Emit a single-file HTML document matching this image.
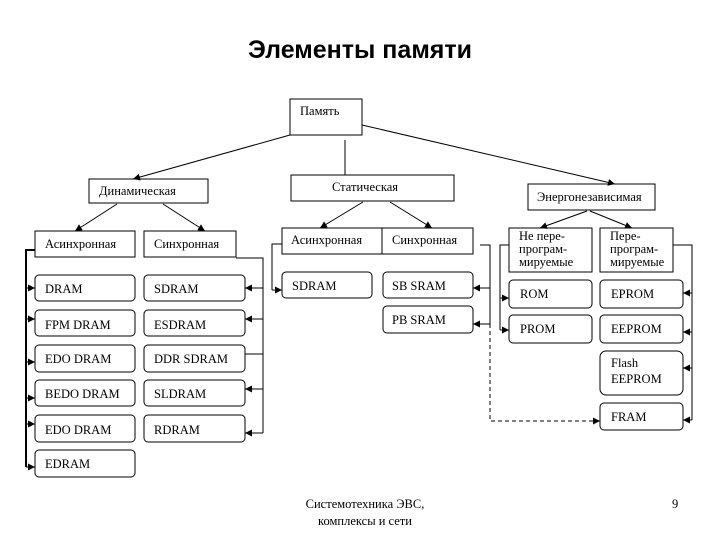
<!DOCTYPE html>
<html><head><meta charset="utf-8"><style>
html,body{margin:0;padding:0;background:#fff;width:720px;height:540px;overflow:hidden}
svg text{font-family:"Liberation Serif",serif;font-size:12.5px;fill:#000}
</style></head><body>
<svg width="720" height="540" viewBox="0 0 720 540" xmlns="http://www.w3.org/2000/svg">
<defs><marker id="a" viewBox="0 0 10 10" refX="10" refY="5" markerWidth="7" markerHeight="7" orient="auto" markerUnits="userSpaceOnUse"><path d="M0,0L10,5L0,10z" fill="#000"/></marker></defs>
<text x="360" y="58" text-anchor="middle" style="font-family:'Liberation Sans',sans-serif;font-size:25px;font-weight:bold">Элементы памяти</text>
<g fill="#fff" stroke="#000" stroke-width="1">
<rect x="290" y="99" width="72" height="36"/>
<rect x="89" y="179" width="119" height="24"/>
<rect x="291" y="175" width="163" height="26"/>
<rect x="528" y="184" width="127" height="26"/>
<rect x="35" y="231" width="100" height="26"/>
<rect x="144" y="231" width="92" height="26"/>
<rect x="282" y="228" width="100" height="26"/>
<rect x="382" y="228" width="91" height="26"/>
<rect x="509" y="228" width="83" height="44"/>
<rect x="600" y="228" width="73" height="44"/>
<g>
<rect x="35" y="275" width="100" height="26" rx="4"/>
<rect x="35" y="310" width="100" height="26" rx="4"/>
<rect x="35" y="345" width="100" height="27" rx="4"/>
<rect x="35" y="380" width="100" height="26" rx="4"/>
<rect x="35" y="415" width="100" height="27" rx="4"/>
<rect x="35" y="450" width="100" height="27" rx="4"/>
<rect x="144" y="275" width="101" height="26" rx="4"/>
<rect x="144" y="310" width="101" height="26" rx="4"/>
<rect x="144" y="345" width="101" height="27" rx="4"/>
<rect x="144" y="380" width="101" height="26" rx="4"/>
<rect x="144" y="415" width="101" height="27" rx="4"/>
<rect x="282" y="272" width="90" height="26" rx="4"/>
<rect x="383" y="272" width="90" height="26" rx="4"/>
<rect x="383" y="306" width="90" height="27" rx="4"/>
<rect x="509" y="280" width="83" height="28" rx="4"/>
<rect x="509" y="315" width="83" height="28" rx="4"/>
<rect x="600" y="280" width="83" height="28" rx="4"/>
<rect x="600" y="315" width="83" height="28" rx="4"/>
<rect x="600" y="351" width="83" height="44" rx="6"/>
<rect x="600" y="403" width="83" height="27" rx="4"/>
</g></g>
<g stroke="#000" stroke-width="1" fill="none">
<line x1="290" y1="135" x2="133" y2="179" marker-end="url(#a)"/>
<line x1="345" y1="140" x2="345" y2="175"/>
<line x1="362" y1="125" x2="615" y2="184" marker-end="url(#a)"/>
<line x1="117" y1="204" x2="75" y2="231" marker-end="url(#a)"/>
<line x1="163" y1="204" x2="205" y2="231" marker-end="url(#a)"/>
<line x1="363" y1="202" x2="320" y2="228" marker-end="url(#a)"/>
<line x1="390" y1="202" x2="432" y2="228" marker-end="url(#a)"/>
<line x1="587" y1="211" x2="540" y2="228" marker-end="url(#a)"/>
<line x1="590" y1="211" x2="632" y2="228" marker-end="url(#a)"/>
<path d="M35,250H26V467" stroke-width="2"/>
<line x1="26" y1="288" x2="35" y2="288" marker-end="url(#a)"/>
<line x1="26" y1="319" x2="35" y2="319" marker-end="url(#a)"/>
<line x1="26" y1="362" x2="35" y2="362" marker-end="url(#a)"/>
<line x1="26" y1="398" x2="35" y2="398" marker-end="url(#a)"/>
<line x1="26" y1="424" x2="35" y2="424" marker-end="url(#a)"/>
<line x1="26" y1="467" x2="35" y2="467" marker-end="url(#a)"/>
<path d="M236,258H263V433"/>
<line x1="263" y1="288" x2="245" y2="288" marker-end="url(#a)"/>
<line x1="263" y1="319" x2="245" y2="319" marker-end="url(#a)"/>
<line x1="263" y1="354" x2="245" y2="354"/>
<line x1="263" y1="389" x2="245" y2="389" marker-end="url(#a)"/>
<line x1="263" y1="433" x2="245" y2="433" marker-end="url(#a)"/>
<path d="M282,244H272V290"/>
<line x1="272" y1="290" x2="282" y2="290" marker-end="url(#a)"/>
<path d="M480,245H490V324"/>
<line x1="490" y1="288" x2="473" y2="288" marker-end="url(#a)"/>
<line x1="490" y1="324" x2="473" y2="324" marker-end="url(#a)"/>
<path d="M490,324V421H600" stroke-dasharray="4,3" marker-end="url(#a)"/>
<path d="M509,245H500V330"/>
<line x1="500" y1="298" x2="509" y2="298" marker-end="url(#a)"/>
<line x1="500" y1="330" x2="509" y2="330" marker-end="url(#a)"/>
<path d="M673,245H692V420"/>
<line x1="692" y1="293" x2="683" y2="293" marker-end="url(#a)"/>
<line x1="692" y1="332" x2="683" y2="332" marker-end="url(#a)"/>
<line x1="692" y1="368" x2="683" y2="368" marker-end="url(#a)"/>
<line x1="692" y1="420" x2="683" y2="420" marker-end="url(#a)"/>
</g>
<text x="300" y="115">Память</text>
<text x="99" y="195">Динамическая</text>
<text x="332" y="191">Статическая</text>
<text x="537" y="201">Энергонезависимая</text>
<text x="45" y="248">Асинхронная</text>
<text x="154" y="248">Синхронная</text>
<text x="291" y="244">Асинхронная</text>
<text x="392" y="244">Синхронная</text>
<g style="font-size:10px"><text x="519" y="240">Не пере-</text><text x="519" y="253">програм-</text><text x="519" y="266">мируемые</text>
<text x="610" y="240">Пере-</text><text x="610" y="253">програм-</text><text x="610" y="266">мируемые</text></g>
<text x="45" y="293">DRAM</text><text x="45" y="329">FPM DRAM</text><text x="45" y="363">EDO DRAM</text><text x="45" y="398">BEDO DRAM</text><text x="45" y="434">EDO DRAM</text><text x="45" y="468">EDRAM</text>
<text x="154" y="293">SDRAM</text><text x="154" y="329">ESDRAM</text><text x="154" y="363">DDR SDRAM</text><text x="154" y="398">SLDRAM</text><text x="154" y="434">RDRAM</text>
<text x="292" y="290">SDRAM</text><text x="392" y="290">SB SRAM</text><text x="392" y="324">PB SRAM</text>
<text x="520" y="298">ROM</text><text x="520" y="333">PROM</text>
<text x="611" y="298">EPROM</text><text x="611" y="333">EEPROM</text><text x="611" y="367">Flash</text><text x="611" y="383">EEPROM</text><text x="611" y="421">FRAM</text>
<g style="font-family:'Liberation Sans',sans-serif;font-size:13px">
<text x="365" y="508" text-anchor="middle">Системотехника ЭВС,</text>
<text x="365" y="525" text-anchor="middle">комплексы и сети</text>
<text x="672" y="508">9</text></g>
</svg>
</body></html>
